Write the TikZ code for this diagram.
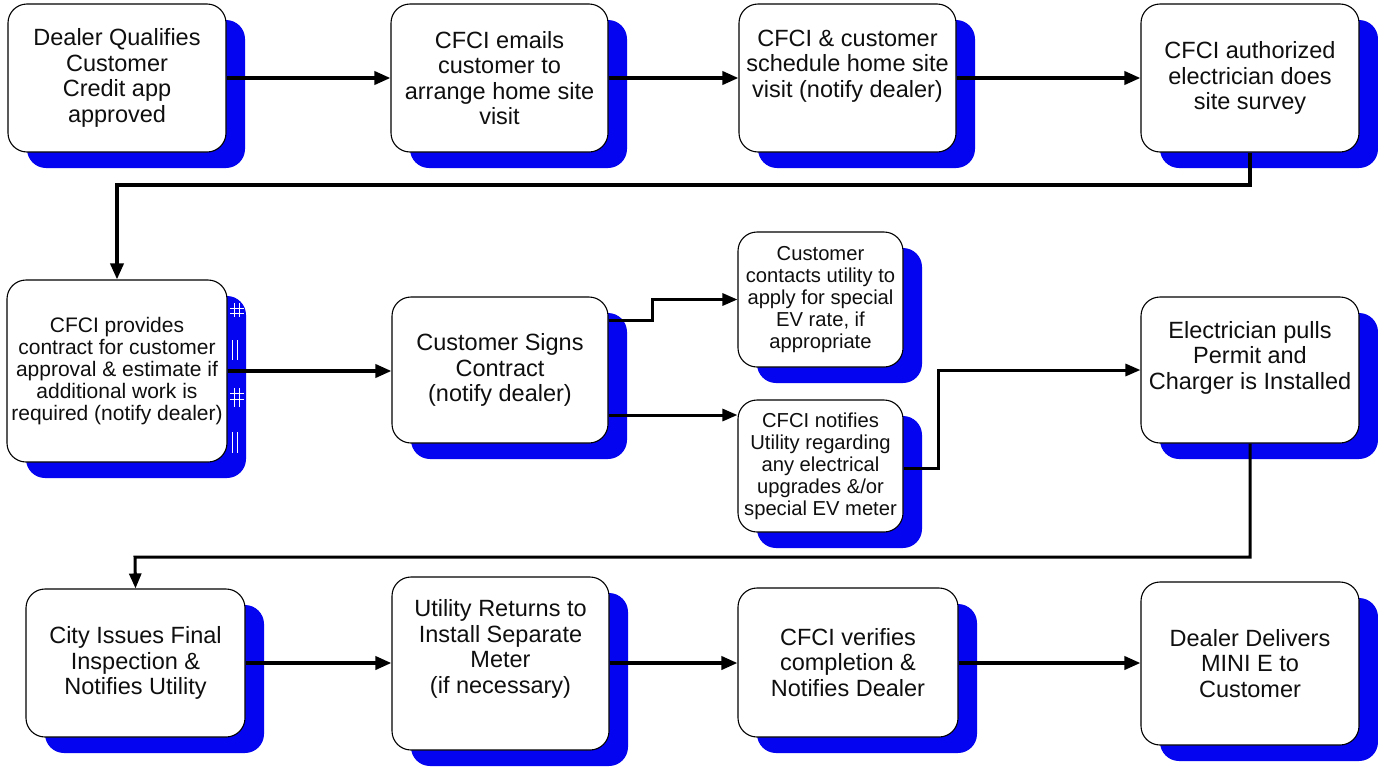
\documentclass[tikz,border=0pt]{standalone}
\usepackage{fontspec}
\setmainfont{Liberation Sans}
\usetikzlibrary{arrows.meta,shadows,calc}
\definecolor{shadowblue}{RGB}{4,4,240}
\definecolor{ink}{RGB}{15,15,15}

\begin{document}
\begin{tikzpicture}[x=1pt,y=-1pt,
  stepbox/.style={draw=black, line width=1.1pt, fill=white, rounded corners=19pt,
    align=center, inner sep=2pt, text=ink,
    font=\fontsize{23.5}{25.5}\selectfont,
    drop shadow={shadow xshift=19pt, shadow yshift=-16pt, fill=shadowblue, opacity=1}},
  widebox/.style={stepbox, minimum width=218pt, minimum height=148pt},
  notebox/.style={stepbox, minimum width=165pt, font=\fontsize{20.2}{22}\selectfont},
  flow/.style={line width=3.6pt, -{Triangle[length=16pt,width=13pt]}},
  thinflow/.style={line width=3pt, -{Triangle[length=15pt,width=12pt]}},
  shadowmark/.style={draw=white, line width=0.9pt}
]
\useasboundingbox (0,0) rectangle (1378,766);

% ---- first row ----
\node[widebox] (a) at (117,78) {Dealer Qualifies\\Customer\\Credit app\\approved};
\node[widebox, minimum width=217pt] (b) at (499.5,78) {CFCI emails\\customer to\\arrange home site\\visit};
\node[widebox, minimum width=217pt] (c) at (847.5,78) {CFCI \& customer\\schedule home site\\visit (notify dealer)\\[3pt]\mbox{}};
\node[widebox] (d) at (1250,78) {CFCI authorized\\electrician does\\site survey};

% ---- second row ----
\node[stepbox, minimum width=220pt, minimum height=182pt, font=\fontsize{21}{22}\selectfont] (e) at (117,371)
  {CFCI provides\\contract for customer\\approval \& estimate if\\additional work is\\required (notify dealer)};
\node[stepbox, minimum width=216pt, minimum height=146pt] (f) at (500,370) {Customer Signs\\Contract\\(notify dealer)};
\node[notebox, minimum height=135pt] (g) at (820.5,299.5) {Customer\\contacts utility to\\apply for special\\EV rate, if\\appropriate};
\node[notebox, minimum height=132pt] (h) at (820.5,466) {CFCI notifies\\Utility regarding\\any electrical\\upgrades \&/or\\special EV meter};
\node[widebox, minimum height=146pt] (i) at (1250,370) {Electrician pulls\\Permit and\\Charger is Installed\\[4pt]\mbox{}};

% ---- third row ----
\node[widebox, minimum width=219pt] (j) at (135.5,663) {City Issues Final\\Inspection \&\\Notifies Utility};
\node[widebox, minimum width=217pt, minimum height=173pt] (k) at (500.5,663.5) {Utility Returns to\\Install Separate\\Meter\\(if necessary)\\[8.5pt]\mbox{}};
\node[widebox, minimum width=220pt, minimum height=149pt] (l) at (848,662.5) {CFCI verifies\\completion \&\\Notifies Dealer};
\node[widebox, minimum height=163pt] (m) at (1250,663.5) {Dealer Delivers\\MINI E to\\Customer};

% white flecks in the shadow of the contract box
\path[shadowmark] (230,308) -- (244,308) (230,313) -- (244,313) (234,303) -- (234,317) (239,303) -- (239,317);
\path[shadowmark] (232,340) -- (232,360) (237,340) -- (237,360);
\path[shadowmark] (230,393) -- (244,393) (230,399) -- (244,399) (234,388) -- (234,407) (239,388) -- (239,407);
\path[shadowmark] (232,432) -- (232,453) (237,432) -- (237,453);

% ---- turning points of the routed connectors ----
\coordinate (deturn) at (117,185);
\coordinate (fgturn) at (652,320);
\coordinate (fhlevel) at (652,415);
\coordinate (hiturn) at (938,468);
\coordinate (ijturn) at (135,557);

% ---- connectors ----
\draw[flow] (a.east) -- (b.west);
\draw[flow] (b.east) -- (c.west);
\draw[flow] (c.east) -- (d.west);
\draw[flow] (d.south) |- (deturn) -- (e.north);
\draw[flow] (e.east) -- (e.east -| f.west);
\draw[thinflow] (fgturn -| f.east) -- (fgturn) |- (g.west);
\draw[thinflow] (fhlevel -| f.east) -- (fhlevel -| h.west);
\draw[thinflow] (hiturn -| h.east) -- (hiturn) |- (i.west);
\draw[thinflow] (i.south) |- (ijturn) -- (j.north);
\draw[flow] (j.east) -- (j.east -| k.west);
\draw[flow] (j.east -| k.east) -- (j.east -| l.west);
\draw[flow] (j.east -| l.east) -- (j.east -| m.west);
\end{tikzpicture}
\end{document}
